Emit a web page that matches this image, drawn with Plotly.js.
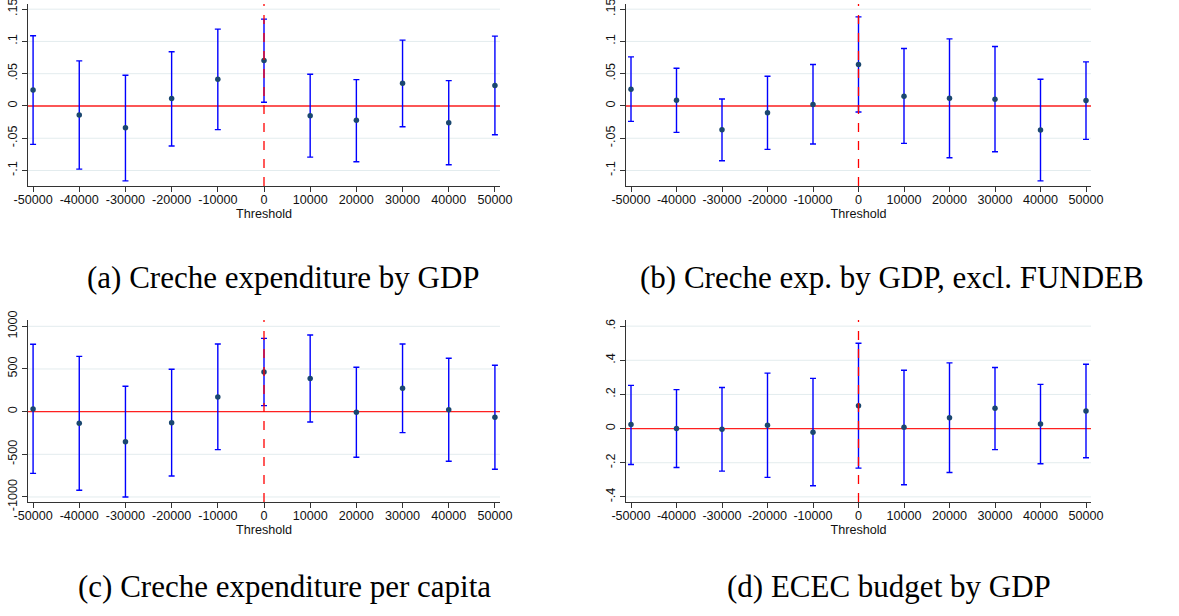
<!DOCTYPE html>
<html>
<head>
<meta charset="utf-8">
<script src="https://cdn.plot.ly/plotly-3.0.1.min.js"></script>
<style>
html,body{margin:0;padding:0;background:#fff;}
#chart{width:1179px;height:616px;}
</style>
</head>
<body>
<div id="chart"></div>
<script>
// Thresholds (x positions)
const thresholds = [-50000,-40000,-30000,-20000,-10000,0,10000,20000,30000,40000,50000];
const xTickText = ["-50000","-40000","-30000","-20000","-10000","0","10000","20000","30000","40000","50000"];

// (a) Creche expenditure by GDP
const estA = [0.0248,-0.0140,-0.0336,0.0114,0.0414,0.0704,-0.0150,-0.0223,0.0352,-0.0259,0.0316];
const hiA  = [0.1087,0.0699,0.0476,0.0839,0.1190,0.1346,0.0492,0.0409,0.1020,0.0393,0.1082];
const loA  = [-0.0595,-0.0978,-0.1160,-0.0621,-0.0367,0.0057,-0.0792,-0.0864,-0.0321,-0.0911,-0.0445];

// (b) Creche exp. by GDP, excl. FUNDEB
const estB = [0.0259,0.0088,-0.0367,-0.0104,0.0021,0.0642,0.0150,0.0119,0.0104,-0.0373,0.0083];
const hiB  = [0.0761,0.0585,0.0109,0.0461,0.0642,0.1380,0.0890,0.1040,0.0921,0.0414,0.0683];
const loB  = [-0.0238,-0.0409,-0.0849,-0.0673,-0.0590,-0.0093,-0.0580,-0.0802,-0.0709,-0.1160,-0.0518];

// (c) Creche expenditure per capita
const estC = [31,-137,-352,-129,172,465,387,-8,273,23,-66];
const hiC  = [789,648,297,496,793,859,898,520,793,625,543];
const loC  = [-723,-922,-1000,-754,-445,70,-121,-535,-246,-582,-676];

// (d) ECEC budget by GDP
const estD = [0.0233,0.0000,-0.0040,0.0195,-0.0214,0.1340,0.0078,0.0640,0.1190,0.0270,0.1030];
const hiD  = [0.253,0.228,0.241,0.325,0.294,0.500,0.342,0.385,0.358,0.259,0.377];
const loD  = [-0.210,-0.228,-0.249,-0.286,-0.335,-0.2315,-0.329,-0.257,-0.123,-0.206,-0.171];

// Y tick labels
const yTickValsAB = [-0.1,-0.05,0,0.05,0.1,0.15];
const yTickTextAB = ["-.1","-.05","0",".05",".1",".15"];
const yTickValsC = [-1000,-500,0,500,1000];
const yTickTextC = ["-1000","-500","0","500","1000"];
const yTickValsD = [-0.4,-0.2,0,0.2,0.4,0.6];
const yTickTextD = ["-.4","-.2","0",".2",".4",".6"];

// Captions
const captions = ["(a) Creche expenditure by GDP","(b) Creche exp. by GDP, excl. FUNDEB",
                  "(c) Creche expenditure per capita","(d) ECEC budget by GDP"];

const W = 1179, H = 616;
const panels = [
  {est:estA, hi:hiA, lo:loA, tv:yTickValsAB, tt:yTickTextAB, yr:[-0.124,0.158], x0:28, x1:500, y0:4, y1:186},
  {est:estB, hi:hiB, lo:loB, tv:yTickValsAB, tt:yTickTextAB, yr:[-0.124,0.158], x0:626, x1:1091, y0:4, y1:186},
  {est:estC, hi:hiC, lo:loC, tv:yTickValsC, tt:yTickTextC, yr:[-1059,1074], x0:28, x1:500, y0:320, y1:502},
  {est:estD, hi:hiD, lo:loD, tv:yTickValsD, tt:yTickTextD, yr:[-0.430,0.636], x0:626, x1:1091, y0:320, y1:502}
];
const capPos = [[283,277],[892,277],[284,586],[889,586]];

const tickFont = {family:"Liberation Sans, Arial, sans-serif", size:12.6, color:"#111"};
const data = [];
const layout = {
  width:W, height:H, margin:{l:0,r:0,t:0,b:0},
  paper_bgcolor:"#fff", plot_bgcolor:"#fff",
  showlegend:false, shapes:[], annotations:[]
};

panels.forEach((p,i)=>{
  const n = i+1;
  const xa = n===1 ? "x" : "x"+n, ya = n===1 ? "y" : "y"+n;
  const xk = n===1 ? "xaxis" : "xaxis"+n, yk = n===1 ? "yaxis" : "yaxis"+n;
  data.push({
    type:"scatter", mode:"markers", x:thresholds, y:p.est, xaxis:xa, yaxis:ya,
    marker:{color:"#1a476f", size:5.5},
    error_y:{type:"data", symmetric:false,
      array:p.hi.map((h,k)=>h-p.est[k]),
      arrayminus:p.est.map((e,k)=>e-p.lo[k]),
      color:"#0000ff", thickness:1.4, width:3},
    hoverinfo:"x+y"
  });
  layout[xk] = {
    domain:[p.x0/W, p.x1/W], anchor:ya, range:[-51100,51100],
    tickvals:thresholds, ticktext:xTickText, ticks:"outside", ticklen:5, tickcolor:"#333",
    showline:true, linecolor:"#333", linewidth:1, showgrid:false, zeroline:false,
    tickfont:tickFont, automargin:false, ticklabeloverflow:"allow", ticklabelstandoff:-3,
    title:{text:"Threshold", font:tickFont, standoff:0}
  };
  layout[yk] = {
    domain:[1-p.y1/H, 1-p.y0/H], anchor:xa, range:p.yr,
    tickvals:p.tv, ticktext:p.tt, ticks:"outside", ticklen:5, tickcolor:"#333",
    tickangle:-90, showline:true, linecolor:"#333", linewidth:1,
    showgrid:false, zeroline:false,
    tickfont:tickFont, automargin:false, ticklabeloverflow:"allow"
  };
  // horizontal gridlines at the y ticks (drawn below the data)
  p.tv.forEach(v=>{
    layout.shapes.push({
      type:"line", xref:xa+" domain", yref:ya, x0:0, x1:1, y0:v, y1:v,
      line:{color:"#e3ecee", width:1}, layer:"below"
    });
  });
  // horizontal reference line at zero
  layout.shapes.push({
    type:"line", xref:xa+" domain", yref:ya, x0:0, x1:1, y0:0, y1:0,
    line:{color:"#ff2020", width:1.4}, layer:"below"
  });
  // vertical dashed reference line at threshold 0
  layout.shapes.push({
    type:"line", xref:xa, yref:ya+" domain", x0:0, x1:0, y0:0, y1:1,
    line:{color:"#ff0000", width:1.3, dash:"dash"}, layer:"above"
  });
  layout.annotations.push({
    xref:"paper", yref:"paper", x:capPos[i][0]/W, y:1-capPos[i][1]/H,
    xanchor:"center", yanchor:"middle", showarrow:false, text:captions[i],
    font:{family:"Liberation Serif, Times New Roman, serif", size:31, color:"#000"}
  });
});

Plotly.newPlot("chart", data, layout, {displayModeBar:false, staticPlot:true});
</script>
</body>
</html>
